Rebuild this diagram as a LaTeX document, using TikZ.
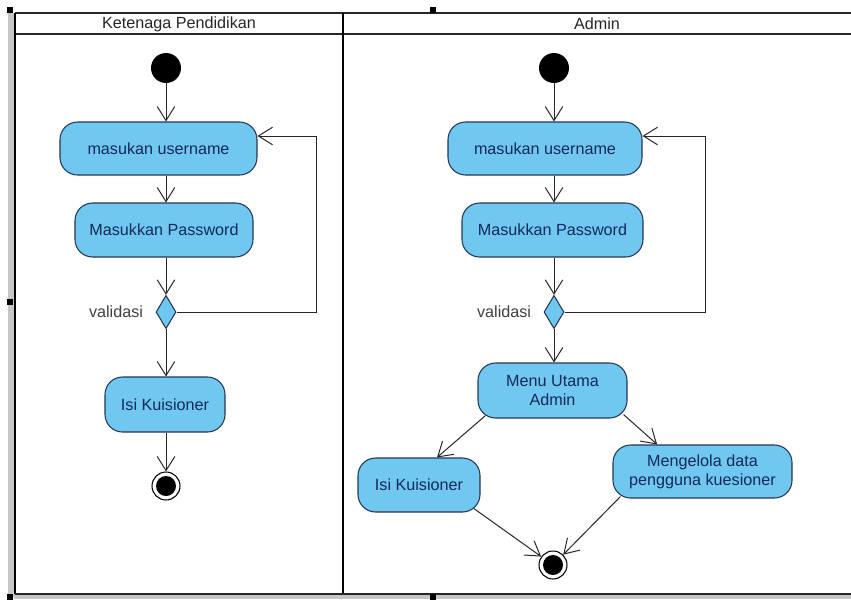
\documentclass[tikz,border=0pt]{standalone}
\usepackage{fontspec}
\setmainfont{Liberation Sans}
\usetikzlibrary{arrows.meta,positioning,shapes.geometric}

\definecolor{actfill}{RGB}{112,200,240}
\definecolor{actline}{RGB}{35,55,85}
\definecolor{acttext}{RGB}{20,40,90}

\tikzset{
  activity/.style={draw=actline, fill=actfill, rounded corners=15pt, line width=0.9pt,
    text=acttext, align=center, font=\fontsize{13.8}{16}\selectfont},
  startnode/.style={circle, fill=black, minimum size=0.9cm, inner sep=0pt},
  endnode/.style={circle, draw=black, line width=0.9pt, fill=white, minimum size=0.84cm, inner sep=0pt,
    path picture={\fill[black] (path picture bounding box.center) circle (0.3cm);}},
  decision/.style={diamond, draw=actline, fill=actfill, line width=0.9pt, aspect=0.6,
    minimum width=0.6cm, minimum height=1.0cm, inner sep=0pt},
  guard/.style={text=black!75, font=\fontsize{13.8}{16}\selectfont},
  lanetitle/.style={text=black!85, font=\fontsize{13.8}{16}\selectfont},
  flow/.style={draw=black!85, line width=0.85pt, -{Straight Barb[length=12pt,width=15pt]}},
}

\begin{document}
\begin{tikzpicture}[x=0.03cm, y=-0.03cm]
        \useasboundingbox (0,0) rectangle (851,602);
        % grey margin
        \fill[gray!45] (8,13) rectangle (14,597);
        \fill[gray!45] (14,594) rectangle (851,599);
        % swimlanes
        \draw[line width=2.4pt, black!85] (15,13) -- (851,13);
        \draw[line width=2pt, black!85] (15,34) -- (851,34);
        \draw[line width=1.8pt] (15,13) -- (15,594);
        \draw[line width=2.4pt] (343,13) -- (343,594);
        \draw[line width=1.8pt, black!85] (15,594) -- (851,594);
        \node[lanetitle] (ltitle) at (179,24) {Ketenaga Pendidikan};
        \node[lanetitle] (rtitle) at (597,24) {Admin};
        % handles
        \foreach \hx/\hy in {10/10, 433/10, 10/302, 10/597, 433/597}
            \fill (\hx,\hy) ++(-3,-3) rectangle ++(6,6);

        % Ketenaga Pendidikan
        \node[startnode] (lstart) at (166,68) {};
        \node[activity, minimum width=5.91cm, minimum height=1.59cm] (luser) at (158.5,148.5) {masukan username};
        \node[activity, minimum width=5.34cm, minimum height=1.62cm] (lpass) at (164,230) {Masukkan Password};
        \node[decision] (ldia) at (166,312) {};
        \node[guard, left=0.25cm of ldia] (lval) {validasi};
        \node[activity, minimum width=3.6cm, minimum height=1.65cm] (lisi) at (165,404.5) {Isi Kuisioner};
        \node[endnode] (lend) at (166,486) {};
        \coordinate (lloop) at (316,136);

        \draw[flow] (lstart) -- (luser.north -| lstart);
        \draw[flow] (luser.south -| lstart) -- (lpass.north -| lstart);
        \draw[flow] (lpass.south -| ldia) -- (ldia.north);
        \draw[flow] (ldia.east) -| (lloop) -- (luser.east |- lloop);
        \draw[flow] (ldia.south) -- (lisi.north -| ldia);
        \draw[flow] (lisi.south -| lend) -- (lend);

        % Admin
        \node[startnode] (rstart) at (554,68) {};
        \node[activity, minimum width=5.82cm, minimum height=1.59cm] (ruser) at (545,148.5) {masukan username};
        \node[activity, minimum width=5.43cm, minimum height=1.62cm] (rpass) at (552.5,230) {Masukkan Password};
        \node[decision] (rdia) at (554,312) {};
        \node[guard, left=0.25cm of rdia] (rval) {validasi};
        \node[activity, minimum width=4.47cm, minimum height=1.65cm] (rmenu) at (552.5,390.5) {Menu Utama\\Admin};
        \node[activity, minimum width=3.66cm, minimum height=1.62cm] (risi) at (419,485) {Isi Kuisioner};
        \node[activity, minimum width=5.37cm, minimum height=1.59cm] (rmeng) at (702.5,471.5) {Mengelola data\\pengguna kuesioner};
        \node[endnode] (rend) at (553,565) {};
        \coordinate (rloop) at (705,136);

        \draw[flow] (rstart) -- (ruser.north -| rstart);
        \draw[flow] (ruser.south -| rstart) -- (rpass.north -| rstart);
        \draw[flow] (rpass.south -| rdia) -- (rdia.north);
        \draw[flow] (rdia.east) -| (rloop) -- (ruser.east |- rloop);
        \draw[flow] (rdia.south) -- (rmenu.north -| rdia);
        \draw[flow] ([xshift=0.24cm,yshift=0.09cm]rmenu.south west) -- ([xshift=0.54cm]risi.north);
        \draw[flow] ([xshift=-0.12cm,yshift=0.12cm]rmenu.south east) -- ([xshift=-1.36cm]rmeng.north);
        \draw[flow] ([xshift=-0.2cm,yshift=0.12cm]risi.south east) -- (rend);
        \draw[flow] ([xshift=0.24cm,yshift=0.06cm]rmeng.south west) -- (rend);
\end{tikzpicture}
\end{document}
